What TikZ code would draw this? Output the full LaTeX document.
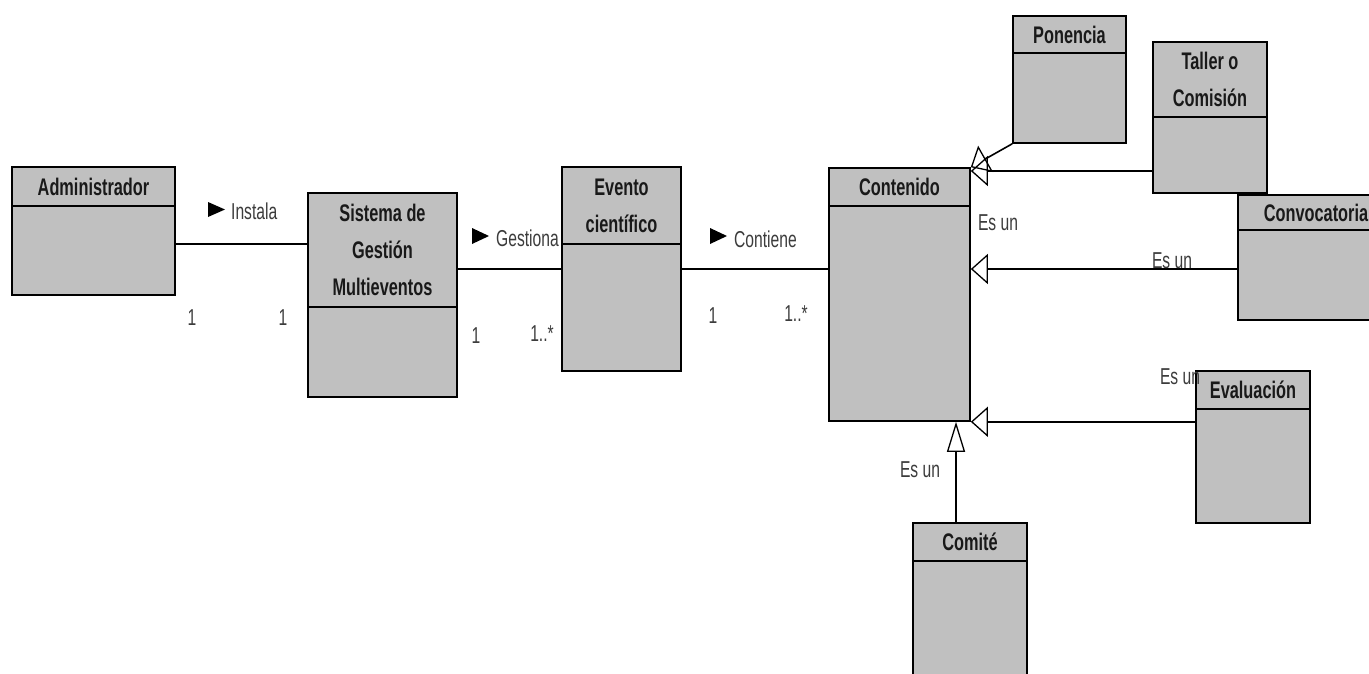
\documentclass[tikz,border=0pt]{standalone}
\usepackage{fontspec}
\newfontfamily\umlfont{Liberation Sans}[FakeStretch=0.68]
\usetikzlibrary{arrows.meta,fit}
\definecolor{boxgray}{HTML}{C0C0C0}
\definecolor{labelgray}{HTML}{3C3C3C}

% class box: name, left, top, right, divider, bottom, title
\newcommand\umlclass[7]{%
  \node[classbox, fit={(#2,#3) (#4,#6)}] (#1) {};
  \draw[classline] (#2,#5) -- (#4,#5);
  \node[classtitle] (#1-title) at ({(#2+#4)/2},{(#3+#5)/2}) {#7};
}

\tikzset{
  classbox/.style={draw=black, fill=boxgray, line width=1.6pt, inner sep=0pt},
  classline/.style={draw=black, line width=1.6pt},
  classtitle/.style={font=\umlfont\bfseries\fontsize{24}{37}\selectfont, align=center, inner sep=0pt, text=black!90},
  assoclabel/.style={font=\umlfont\fontsize{23}{26}\selectfont, inner sep=0pt, text=labelgray},
  assoc/.style={draw=black, line width=1.6pt},
  gen/.style={draw=black, line width=1.6pt, -{Triangle[open, length=17pt, width=30pt, line width=1.3pt]}},
  genv/.style={draw=black, line width=1.6pt, -{Triangle[open, length=30pt, width=18pt, line width=1.3pt]}},
  dirmark/.style={fill=black}
}

\begin{document}
\begin{tikzpicture}[x=1pt, y=-1pt]
\useasboundingbox (0,0) rectangle (1369,673);

% classes
\umlclass{admin}{12}{167}{175}{206}{295}{Administrador}
\umlclass{sistema}{308}{193}{457}{307}{397}{Sistema de\\Gestión\\Multieventos}
\umlclass{evento}{562}{167}{681}{244}{371}{Evento\\científico}
\umlclass{contenido}{829}{168}{970}{206}{421}{Contenido}
\umlclass{ponencia}{1013}{16}{1126}{53}{143}{Ponencia}
\umlclass{taller}{1153}{42}{1267}{117}{193}{Taller o\\Comisión}
\umlclass{convocatoria}{1238}{195}{1394}{230}{320}{Convocatoria}
\umlclass{evaluacion}{1196}{371}{1310}{409}{523}{Evaluación}
\umlclass{comite}{913}{523}{1027}{561}{692}{Comité}

% associations
\draw[assoc] (admin.east |- 0,244) -- (sistema.west |- 0,244);
\draw[assoc] (sistema.east |- 0,269) -- (evento.west |- 0,269);
\draw[assoc] (evento.east |- 0,269) -- (contenido.west |- 0,269);

% association names with reading direction
\fill[dirmark] (208,202) -- (225,209.5) -- (208,217) -- cycle;
\node[assoclabel, anchor=west] (lInstala) at (231,211) {Instala};
\fill[dirmark] (472,228) -- (489,236) -- (472,244) -- cycle;
\node[assoclabel, anchor=west] (lGestiona) at (496,238) {Gestiona};
\fill[dirmark] (710,228) -- (727,236) -- (710,244) -- cycle;
\node[assoclabel, anchor=west] (lContiene) at (734,239) {Contiene};

% multiplicities
\node[assoclabel] (m1) at (192,318) {1};
\node[assoclabel] (m2) at (283,318) {1};
\node[assoclabel] (m3) at (476,336) {1};
\node[assoclabel] (m4) at (542,334) {1..*};
\node[assoclabel] (m5) at (713,316) {1};
\node[assoclabel] (m6) at (796,314) {1..*};

% generalizations
\draw[gen] (ponencia.south west) -- (contenido.north east);
\draw[gen] (taller.west |- 0,171) -- (contenido.east |- 0,171);
\draw[gen] (convocatoria.west |- 0,269) -- (contenido.east |- 0,269);
\draw[gen] (evaluacion.west |- contenido.south east) -- (contenido.south east);
\draw[genv] (956,0 |- comite.north) -- (956,0 |- contenido.south);

\node[assoclabel] (g1) at (998,223) {Es un};
\node[assoclabel] (g2) at (1172,261) {Es un};
\node[assoclabel] (g3) at (1180,377) {Es un};
\node[assoclabel] (g4) at (920,470) {Es un};
\end{tikzpicture}
\end{document}
